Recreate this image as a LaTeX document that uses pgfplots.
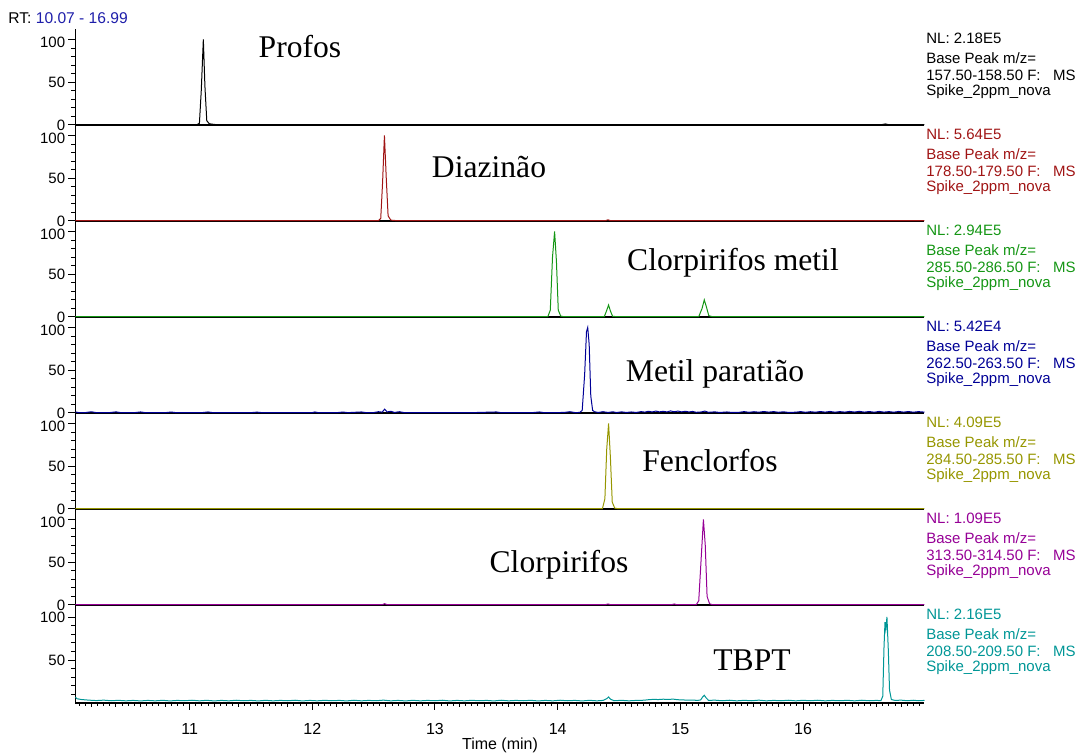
\documentclass[border=0pt]{standalone}
\usepackage{fontspec}
\setmainfont{Liberation Sans}
\newfontfamily\serif{Liberation Serif}
\usepackage{pgfplots}
\pgfplotsset{compat=1.18}

\definecolor{cRed}{RGB}{160,20,20}
\definecolor{cGreen}{RGB}{20,150,20}
\definecolor{cNavy}{RGB}{0,0,150}
\definecolor{cOlive}{RGB}{150,150,0}
\definecolor{cPurple}{RGB}{150,0,150}
\definecolor{cTeal}{RGB}{0,150,150}
\definecolor{cRT}{RGB}{30,30,170}

\pgfplotsset{
  panel/.style={
    scale only axis, width=424.5pt, height=48pt,
    anchor=south west,
    xmin=10.07, xmax=16.99, ymin=0, ymax=112.3,
    axis x line=bottom, axis y line=left,
    axis line style={-, black, line width=0.6pt},
    xtick=\empty,
    ytick={0,50}, minor ytick={10,20,30,40,60,70,80,90},
    extra y ticks={100},
    extra y tick style={yticklabel style={yshift=-1.2pt}},
    tick align=outside, ytick pos=left,
    major tick length=3.5pt, minor tick length=2pt,
    every tick/.style={black, line width=0.5pt},
    /pgf/number format/assume math mode=true,
    yticklabel style={font=\fontsize{7.5}{8}\selectfont, inner sep=0pt,
                      text height=5.2pt, text depth=0pt, xshift=-1.5pt},
    clip=false,
  },
  trace/.style={line width=0.5pt, #1},
}

\newcommand{\info}[5]{%
  \node[anchor=west, text=#1, font=\fontsize{7.5}{8}\selectfont, inner sep=0pt] at (463pt,{(753-38-96*#2)*0.5pt}) {NL: #3};
  \node[anchor=west, text=#1, font=\fontsize{7.5}{8}\selectfont, inner sep=0pt] at (463pt,{(753-58-96*#2)*0.5pt}) {Base Peak m/z=};
  \node[anchor=west, text=#1, font=\fontsize{7.5}{8}\selectfont, inner sep=0pt] at (463pt,{(753-75-96*#2)*0.5pt}) {#4 F:\ \ \ MS};
  \node[anchor=west, text=#1, font=\fontsize{7.5}{8}\selectfont, inner sep=0pt] at (463pt,{(753-92-96*#2)*0.5pt}) {#5};
}

\begin{document}
\begin{tikzpicture}
\useasboundingbox (0,0) rectangle (539pt,376.5pt);

% Profos
\begin{axis}[panel, at={(37.75pt,314pt)}]
\addplot[trace=black] coordinates {
  (10.07,0.4)(11.06,0.4)(11.08,2)(11.095,40)(11.112,100)(11.125,45)(11.14,5)(11.16,1.5)(11.2,0.6)(11.25,0.4)
  (16.64,0.4)(16.67,1.2)(16.70,0.4)(16.99,0.4)
};
\end{axis}

% Diazinao
\begin{axis}[panel, at={(37.75pt,266pt)}]
\addplot[trace=cRed] coordinates {
  (10.07,0.4)(12.54,0.4)(12.558,3)(12.573,45)(12.588,100)(12.603,50)(12.618,6)(12.64,1)(12.69,0.4)
  (14.39,0.4)(14.41,1.4)(14.43,0.4)(16.99,0.4)
};
\end{axis}

% Clorpirifos metil
\begin{axis}[panel, at={(37.75pt,218pt)}]
\addplot[trace=cGreen] coordinates {
  (10.07,0.4)(13.92,0.4)(13.94,8)(13.958,70)(13.975,100)(13.99,65)(14.005,8)(14.025,1)(14.05,0.4)
  (14.38,0.4)(14.398,7)(14.415,14)(14.43,7)(14.448,0.8)(14.48,0.4)
  (15.15,0.4)(15.177,10)(15.195,20)(15.212,12)(15.232,1.5)(15.26,0.4)(16.99,0.4)
};
\end{axis}

% Metil paratiao
\begin{axis}[panel, at={(37.75pt,170pt)}]
\addplot[trace=cNavy] coordinates {
  (10.07,1.2)(10.10,0.4)(10.15,0.5)(10.20,1.4)(10.24,0.4)(10.35,0.5)(10.40,1.3)(10.44,0.4)(10.55,0.4)
  (10.60,1.2)(10.64,0.4)(10.80,0.4)(10.85,1.1)(10.89,0.4)(11.10,0.4)(11.15,1.2)(11.19,0.4)(11.50,0.4)
  (11.55,1)(11.59,0.4)(12.00,0.4)(12.02,1.2)(12.05,0.4)(12.20,0.4)(12.25,1.1)(12.29,0.4)(12.40,1.2)
  (12.44,0.4)(12.50,0.5)(12.54,1.5)(12.57,1)(12.59,4.5)(12.61,1.2)(12.64,2)(12.67,0.6)(12.71,1.5)
  (12.75,0.4)(13.10,0.5)(13.30,0.4)(13.50,1.2)(13.54,0.4)(13.80,0.5)(13.85,1.2)(13.89,0.4)(14.05,0.6)
  (14.10,1.5)(14.14,0.5)(14.18,0.6)(14.20,3)(14.22,45)(14.235,95)(14.245,100)(14.257,80)(14.27,20)
  (14.285,3)(14.30,1.5)(14.33,0.6)(14.37,1.5)(14.41,0.6)(14.45,1.4)(14.48,0.5)(14.52,1.3)(14.56,0.6)
  (14.60,1.2)(14.64,0.6)(14.68,1.6)(14.71,1)(14.74,2)(14.77,1.2)(14.80,2.2)(14.83,1.3)(14.86,2)
  (14.89,1.2)(14.92,2.4)(14.95,1.4)(14.98,2.2)(15.01,1.3)(15.04,2)(15.07,1.2)(15.10,1.8)(15.13,0.8)
  (15.17,1.2)(15.20,2.2)(15.23,0.8)(15.28,1.3)(15.32,0.6)(15.38,1.2)(15.42,0.6)(15.48,0.8)(15.52,1.6)
  (15.56,0.8)(15.60,1.5)(15.64,0.9)(15.68,1.7)(15.72,1)(15.76,1.6)(15.80,0.8)(15.84,1.4)(15.88,0.7)
  (15.94,0.9)(15.98,1.6)(16.02,0.8)(16.06,1.5)(16.10,0.9)(16.14,1.7)(16.18,1)(16.22,1.8)(16.26,0.9)
  (16.30,1.6)(16.34,1)(16.38,1.8)(16.42,1.1)(16.46,1.9)(16.50,1)(16.54,1.7)(16.58,0.9)(16.62,1.8)
  (16.66,1)(16.70,1.6)(16.74,0.9)(16.78,1.8)(16.82,1)(16.86,1.7)(16.90,0.9)(16.94,1.6)(16.99,1)
};
\end{axis}

% Fenclorfos
\begin{axis}[panel, at={(37.75pt,122pt)}]
\addplot[trace=cOlive] coordinates {
  (10.07,0.4)(14.365,0.4)(14.385,12)(14.40,70)(14.415,100)(14.43,60)(14.445,8)(14.465,1)(14.49,0.4)(16.99,0.4)
};
\end{axis}

% Clorpirifos
\begin{axis}[panel, at={(37.75pt,74pt)}]
\addplot[trace=cPurple] coordinates {
  (10.07,0.4)(12.57,0.4)(12.59,1.5)(12.61,0.4)(14.39,0.4)(14.41,1.2)(14.43,0.4)(14.93,0.4)(14.95,1.2)(14.97,0.4)
  (15.13,0.4)(15.15,5)(15.172,60)(15.188,100)(15.203,70)(15.218,10)(15.238,1.5)(15.26,0.4)(16.99,0.4)
};
\end{axis}

% TBPT
\begin{axis}[panel, at={(37.75pt,25pt)}, height=49pt, ymax=114,
  xtick={11,12,13,14,15,16},
  minor xtick={10.2,10.4,10.6,10.8,11.2,11.4,11.6,11.8,12.2,12.4,12.6,12.8,13.2,13.4,13.6,13.8,
               14.2,14.4,14.6,14.8,15.2,15.4,15.6,15.8,16.2,16.4,16.6,16.8},
  extra x ticks={10.1,10.15,10.25,10.3,10.35,10.45,10.5,10.55,10.65,10.7,10.75,10.85,10.9,10.95,
                 11.05,11.1,11.15,11.25,11.3,11.35,11.45,11.5,11.55,11.65,11.7,11.75,11.85,11.9,11.95,
                 12.05,12.1,12.15,12.25,12.3,12.35,12.45,12.5,12.55,12.65,12.7,12.75,12.85,12.9,12.95,
                 13.05,13.1,13.15,13.25,13.3,13.35,13.45,13.5,13.55,13.65,13.7,13.75,13.85,13.9,13.95,
                 14.05,14.1,14.15,14.25,14.3,14.35,14.45,14.5,14.55,14.65,14.7,14.75,14.85,14.9,14.95,
                 15.05,15.1,15.15,15.25,15.3,15.35,15.45,15.5,15.55,15.65,15.7,15.75,15.85,15.9,15.95,
                 16.05,16.1,16.15,16.25,16.3,16.35,16.45,16.5,16.55,16.65,16.7,16.75,16.85,16.9,16.95},
  extra x tick labels={},
  extra x tick style={major tick length=1.5pt},
  xtick pos=bottom,
  xticklabel style={font=\fontsize{8}{9}\selectfont, yshift=-3pt},
  ytick={50,100}, extra y ticks={}, minor ytick={10,20,30,40,60,70,80,90},
]
\addplot[trace=cTeal] coordinates {
  (10.07,7)(10.08,5)(10.12,4)(10.18,3.3)(10.24,2.8)(10.30,3.3)(10.36,2.6)(10.42,3.1)(10.48,2.5)(10.54,3)
  (10.60,2.4)(10.66,3)(10.72,2.5)(10.78,3.1)(10.84,2.4)(10.90,3)(10.96,2.6)(11.02,3.2)(11.08,2.5)(11.14,3.1)
  (11.20,2.4)(11.26,3)(11.32,2.5)(11.38,3.2)(11.44,2.6)(11.50,3)(11.56,2.4)(11.62,3.1)(11.68,2.5)(11.74,3)
  (11.80,2.6)(11.86,3.2)(11.92,2.4)(11.98,3)(12.04,2.5)(12.10,3.1)(12.16,2.6)(12.22,3)(12.28,2.4)(12.34,3.2)
  (12.40,2.5)(12.46,3)(12.52,2.6)(12.58,3.3)(12.64,2.5)(12.70,3)(12.76,2.4)(12.82,3.1)(12.88,2.5)(12.94,3)
  (13.00,2.6)(13.06,3.2)(13.12,2.4)(13.18,3)(13.24,2.5)(13.30,3.1)(13.36,2.6)(13.42,3)(13.48,2.4)(13.54,3.2)
  (13.60,2.5)(13.66,3)(13.72,2.6)(13.78,3.1)(13.84,2.4)(13.90,3)(13.96,2.5)(14.02,3.2)(14.08,2.6)(14.14,3)
  (14.20,2.4)(14.26,3.1)(14.32,2.5)(14.37,3)(14.40,5)(14.415,7)(14.43,4.5)(14.46,2.6)(14.52,3.1)(14.58,2.5)
  (14.64,3)(14.70,3.2)(14.74,3.8)(14.78,4.2)(14.82,4)(14.86,4.4)(14.90,4.1)(14.94,4.5)(14.98,3.8)(15.02,3.6)
  (15.06,3.2)(15.10,3.4)(15.14,3)(15.165,3.5)(15.182,7)(15.195,9)(15.21,6)(15.23,3)(15.28,3.3)(15.34,2.6)
  (15.40,3.2)(15.46,2.5)(15.52,3.1)(15.58,2.6)(15.64,3.3)(15.70,2.5)(15.76,3)(15.82,2.6)(15.88,3.2)(15.94,2.5)
  (16.00,3.1)(16.06,2.6)(16.12,3.2)(16.18,2.5)(16.24,3)(16.30,2.6)(16.36,3.1)(16.42,2.5)(16.48,3.2)(16.54,2.6)
  (16.60,3)(16.635,2.7)(16.65,8)(16.66,65)(16.668,94)(16.675,86)(16.684,100)(16.695,62)(16.705,15)(16.72,4)
  (16.75,3)(16.80,3.3)(16.85,2.6)(16.90,3.2)(16.94,2.6)(16.99,3)
};
\end{axis}

% compound names
\begin{scope}[every node/.style={font=\serif\fontsize{15.8}{18}\selectfont, inner sep=0pt}]
\node at (150pt,353pt) {Profos};
\node at (244.5pt,293pt) {Diazinão};
\node at (366.5pt,245pt) {Clorpirifos metil};
\node at (357.5pt,189.5pt) {Metil paratião};
\node at (355pt,146pt) {Fenclorfos};
\node at (279.5pt,94pt) {Clorpirifos};
\node at (376pt,46.5pt) {TBPT};
\end{scope}

% scan info
\info{black}{0}{2.18E5}{157.50-158.50}{Spike\_2ppm\_nova}
\info{cRed}{1}{5.64E5}{178.50-179.50}{Spike\_2ppm\_nova}
\info{cGreen}{2}{2.94E5}{285.50-286.50}{Spike\_2ppm\_nova}
\info{cNavy}{3}{5.42E4}{262.50-263.50}{Spike\_2ppm\_nova}
\info{cOlive}{4}{4.09E5}{284.50-285.50}{Spike\_2ppm\_nova}
\info{cPurple}{5}{1.09E5}{313.50-314.50}{Spike\_2ppm\_nova}
\info{cTeal}{6}{2.16E5}{208.50-209.50}{Spike\_2ppm\_nova}

\node[anchor=west, inner sep=0pt, font=\fontsize{7.8}{9}\selectfont] at (4pt,367.5pt) {RT: \textcolor{cRT}{10.07 - 16.99}};
\node[inner sep=0pt, font=\fontsize{8}{9}\selectfont] at (250pt,4pt) {Time (min)};
\end{tikzpicture}
\end{document}
